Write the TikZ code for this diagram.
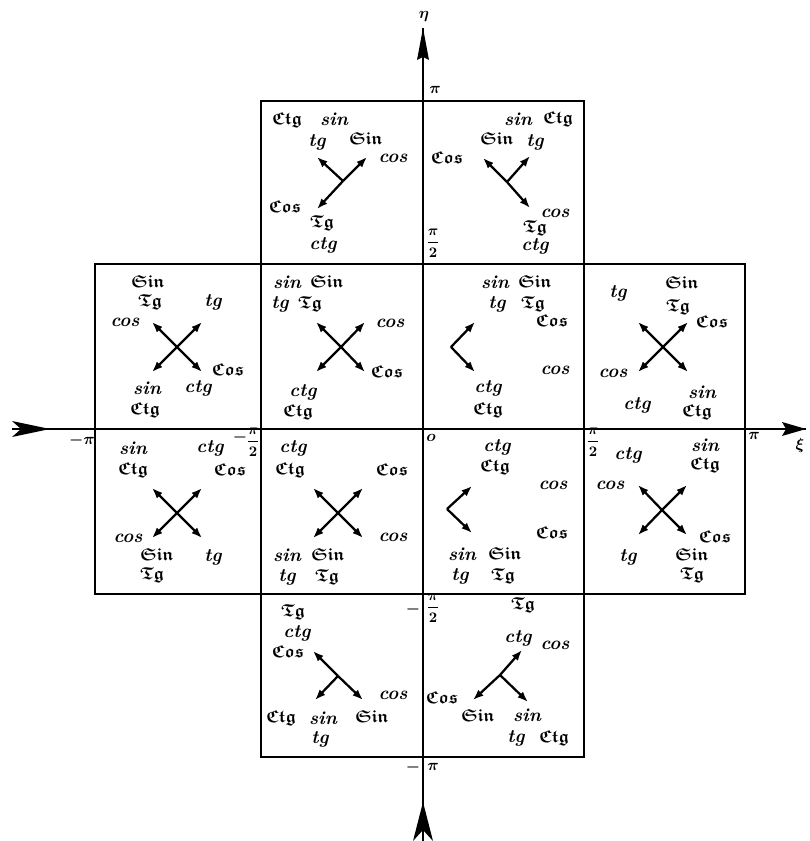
\documentclass[tikz,border=0pt]{standalone}
\usepackage{fontspec}
\usepackage{amssymb}
\usepackage{bm}
\DeclareFontFamily{U}{euf}{}
\DeclareFontShape{U}{euf}{m}{n}{<-6>eufm5<6-8>eufm7<8->eufm10}{}
\DeclareFontShape{U}{euf}{b}{n}{<-6>eufb5<6-8>eufb7<8->eufb10}{}
\usetikzlibrary{arrows.meta}
\newcommand\frk[1]{$\bm{\mathfrak{#1}}$}
\newcommand\hpi{$\displaystyle\bm{\frac{\pi}{2}}$}
\begin{document}
\begin{tikzpicture}[x=0.75pt,y=-0.75pt,
 lab/.style={inner sep=0pt, font=\fontsize{14}{16}\selectfont\bfseries\itshape},
 frl/.style={inner sep=0pt, font=\fontsize{13}{15}\selectfont},
 tick/.style={inner sep=0pt, font=\fontsize{13}{14}\selectfont\bfseries\itshape},
 htick/.style={inner sep=0pt, font=\fontsize{10.5}{11}\selectfont},
 arr/.style={line width=1.7pt, -{Latex[length=8pt,width=6pt]}},
 box/.style={line width=1.3pt},
 axisline/.style={line width=1.6pt}]
\useasboundingbox (0,0) rectangle (809,841);
% boxes
\draw[box] (261,101) rectangle (584,264);
\draw[box] (95,264) rectangle (745,594);
\draw[box] (261,594) rectangle (584,757);
\draw[box] (261,264) -- (261,594);
\draw[box] (584,264) -- (584,594);
% axes
\coordinate (xl) at (12,429); \coordinate (xr) at (806,429);
\coordinate (yb) at (423,841); \coordinate (yt) at (423,28);
\draw[axisline] (xl) -- (xr);
\draw[axisline] (yb) -- (yt);
\fill (50,429) -- (12,421) -- (21,429) -- (12,437) -- cycle;
\fill (806,429) -- (782,422) -- (786,429) -- (782,436) -- cycle;
\fill (423,28) -- (429,60) -- (423,57) -- (417,60) -- cycle;
\fill (423,802) -- (433,841) -- (423,830) -- (413,841) -- cycle;
% axis labels
\node[tick] (eta) at (424,17) {$\bm\eta$};
\node[tick] (xi) at (800,445) {$\bm\xi$};
\node[tick] (p1) at (435,90) {$\bm\pi$};
\node[htick] (p2) at (433,243) {\hpi};
\node[tick] (m2a) at (413,609) {$\bm-$};
\node[htick] (m2b) at (433,608) {\hpi};
\node[tick] (m1a) at (413,767) {$\bm-$};
\node[tick] (m1b) at (433,767) {$\bm\pi$};
\node[tick] (lpi) at (82,440) {$\bm{-\pi}$};
\node[tick] (lhp1) at (240,437) {$\bm-$};
\node[htick] (lhp2) at (253,442) {\hpi};
\node[tick] (orig) at (431,438) {$\bm o$};
\node[htick] (rhp) at (593,442) {\hpi};
\node[tick] (rpi) at (754,436) {$\bm\pi$};
% ---- top left box
\node[frl] (tl1) at (287,120) {\frk{Ctg}};
\node[lab] (tl2) at (334,119) {sin};
\node[lab] (tl3) at (317,142) {tg};
\node[frl] (tl4) at (366,139) {\frk{Sin}};
\node[lab] (tl5) at (393,158) {cos};
\node[frl] (tl6) at (285,207) {\frk{Cos}};
\node[frl] (tl7) at (322,223) {\frk{Tg}};
\node[lab] (tl8) at (323,245) {ctg};
\coordinate (tlc) at (343,181);
\coordinate (tla) at (317,157); \coordinate (tlb) at (367,157); \coordinate (tld) at (317,209);
\draw[arr] (tlc) -- (tla); \draw[arr] (tlc) -- (tlb); \draw[arr] (tlc) -- (tld);
% ---- top right box
\node[lab] (tr1) at (518,119) {sin};
\node[frl] (tr2) at (558,119) {\frk{Ctg}};
\node[frl] (tr3) at (497,139) {\frk{Sin}};
\node[lab] (tr4) at (535,142) {tg};
\node[frl] (tr5) at (447,158) {\frk{Cos}};
\node[lab] (tr6) at (555,213) {cos};
\node[frl] (tr7) at (535,228) {\frk{Tg}};
\node[lab] (tr8) at (535,246) {ctg};
\coordinate (trc) at (507,182);
\coordinate (tra) at (483,158); \coordinate (trb) at (530,156); \coordinate (trd) at (530,208);
\draw[arr] (trc) -- (tra); \draw[arr] (trc) -- (trb); \draw[arr] (trc) -- (trd);
% ---- middle row, upper half
\node[frl] (a1) at (148,282) {\frk{Sin}};
\node[frl] (a2) at (150,302) {\frk{Tg}};
\node[lab] (a3) at (213,302) {tg};
\node[lab] (a4) at (125,322) {cos};
\node[frl] (a5) at (228,370) {\frk{Cos}};
\node[lab] (a6) at (147,388) {sin};
\node[lab] (a7) at (198,388) {ctg};
\node[frl] (a8) at (145,410) {\frk{Ctg}};
\coordinate (ac) at (177,347);
\coordinate (aa) at (152,322); \coordinate (ab) at (202,322); \coordinate (ad) at (152,372); \coordinate (ae) at (202,372);
\draw[arr] (ac) -- (aa); \draw[arr] (ac) -- (ab); \draw[arr] (ac) -- (ad); \draw[arr] (ac) -- (ae);

\node[lab] (b1) at (287,282) {sin};
\node[frl] (b2) at (327,282) {\frk{Sin}};
\node[lab] (b3) at (280,304) {tg};
\node[frl] (b4) at (310,304) {\frk{Tg}};
\node[lab] (b5) at (390,323) {cos};
\node[frl] (b6) at (387,372) {\frk{Cos}};
\node[lab] (b7) at (303,392) {ctg};
\node[frl] (b8) at (298,412) {\frk{Ctg}};
\coordinate (bc) at (341,347);
\coordinate (ba) at (316,322); \coordinate (bb) at (365,322); \coordinate (bd) at (316,372); \coordinate (be) at (365,372);
\draw[arr] (bc) -- (ba); \draw[arr] (bc) -- (bb); \draw[arr] (bc) -- (bd); \draw[arr] (bc) -- (be);

\node[lab] (c1) at (495,282) {sin};
\node[frl] (c2) at (535,282) {\frk{Sin}};
\node[lab] (c3) at (497,304) {tg};
\node[frl] (c4) at (533,304) {\frk{Tg}};
\node[frl] (c5) at (552,321) {\frk{Cos}};
\node[lab] (c6) at (555,370) {cos};
\node[lab] (c7) at (488,388) {ctg};
\node[frl] (c8) at (488,410) {\frk{Ctg}};
\coordinate (cc) at (451,347);
\coordinate (ca) at (475,322); \coordinate (cb) at (475,372);
\draw[arr] (cc) -- (ca); \draw[arr] (cc) -- (cb);

\node[lab] (d1) at (618,293) {tg};
\node[frl] (d2) at (682,283) {\frk{Sin}};
\node[frl] (d3) at (678,307) {\frk{Tg}};
\node[frl] (d4) at (712,322) {\frk{Cos}};
\node[lab] (d5) at (613,373) {cos};
\node[lab] (d6) at (637,405) {ctg};
\node[lab] (d7) at (702,392) {sin};
\node[frl] (d8) at (697,412) {\frk{Ctg}};
\coordinate (dc) at (663,347);
\coordinate (da) at (638,322); \coordinate (db) at (688,322); \coordinate (dd) at (638,372); \coordinate (de) at (688,372);
\draw[arr] (dc) -- (da); \draw[arr] (dc) -- (db); \draw[arr] (dc) -- (dd); \draw[arr] (dc) -- (de);
% ---- middle row, lower half
\node[lab] (e1) at (133,448) {sin};
\node[frl] (e2) at (133,470) {\frk{Ctg}};
\node[lab] (e3) at (210,448) {ctg};
\node[frl] (e4) at (230,470) {\frk{Cos}};
\node[lab] (e5) at (128,538) {cos};
\node[frl] (e6) at (157,555) {\frk{Sin}};
\node[lab] (e7) at (213,557) {tg};
\node[frl] (e8) at (152,575) {\frk{Tg}};
\coordinate (ec) at (177,513);
\coordinate (ea) at (152,488); \coordinate (eb) at (202,488); \coordinate (ed) at (152,538); \coordinate (ee) at (202,538);
\draw[arr] (ec) -- (ea); \draw[arr] (ec) -- (eb); \draw[arr] (ec) -- (ed); \draw[arr] (ec) -- (ee);

\node[lab] (f1) at (293,448) {ctg};
\node[frl] (f2) at (290,470) {\frk{Ctg}};
\node[frl] (f3) at (392,470) {\frk{Cos}};
\node[lab] (f4) at (393,537) {cos};
\node[lab] (f5) at (287,555) {sin};
\node[frl] (f6) at (328,555) {\frk{Sin}};
\node[lab] (f7) at (287,577) {tg};
\node[frl] (f8) at (327,577) {\frk{Tg}};
\coordinate (fc) at (338,513);
\coordinate (fa) at (313,488); \coordinate (fb) at (363,488); \coordinate (fd) at (313,538); \coordinate (fe) at (363,538);
\draw[arr] (fc) -- (fa); \draw[arr] (fc) -- (fb); \draw[arr] (fc) -- (fd); \draw[arr] (fc) -- (fe);

\node[lab] (g1) at (497,447) {ctg};
\node[frl] (g2) at (495,467) {\frk{Ctg}};
\node[lab] (g3) at (553,485) {cos};
\node[frl] (g4) at (552,533) {\frk{Cos}};
\node[lab] (g5) at (462,554) {sin};
\node[frl] (g6) at (505,554) {\frk{Sin}};
\node[lab] (g7) at (460,576) {tg};
\node[frl] (g8) at (503,576) {\frk{Tg}};
\coordinate (gc) at (447,509);
\coordinate (ga) at (472,486); \coordinate (gb) at (472,533);
\draw[arr] (gc) -- (ga); \draw[arr] (gc) -- (gb);

\node[lab] (h1) at (628,455) {ctg};
\node[lab] (h2) at (610,485) {cos};
\node[lab] (h3) at (705,445) {sin};
\node[frl] (h4) at (705,465) {\frk{Ctg}};
\node[frl] (h5) at (715,537) {\frk{Cos}};
\node[lab] (h6) at (628,557) {tg};
\node[frl] (h7) at (692,555) {\frk{Sin}};
\node[frl] (h8) at (692,575) {\frk{Tg}};
\coordinate (hc) at (662,510);
\coordinate (ha) at (638,485); \coordinate (hb) at (687,485); \coordinate (hd) at (638,535); \coordinate (he) at (687,535);
\draw[arr] (hc) -- (ha); \draw[arr] (hc) -- (hb); \draw[arr] (hc) -- (hd); \draw[arr] (hc) -- (he);
% ---- bottom left box
\node[frl] (i1) at (293,612) {\frk{Tg}};
\node[lab] (i2) at (297,633) {ctg};
\node[frl] (i3) at (288,652) {\frk{Cos}};
\node[lab] (i4) at (393,695) {cos};
\node[frl] (i5) at (281,718) {\frk{Ctg}};
\node[lab] (i6) at (323,718) {sin};
\node[frl] (i7) at (372,717) {\frk{Sin}};
\node[lab] (i8) at (320,739) {tg};
\coordinate (ic) at (338,676);
\coordinate (ia) at (313,651); \coordinate (ib) at (315,700); \coordinate (id) at (363,700);
\draw[arr] (ic) -- (ia); \draw[arr] (ic) -- (ib); \draw[arr] (ic) -- (id);
% ---- bottom right box
\node[frl] (j1) at (523,605) {\frk{Tg}};
\node[lab] (j2) at (518,638) {ctg};
\node[lab] (j3) at (555,645) {cos};
\node[frl] (j4) at (442,698) {\frk{Cos}};
\node[frl] (j5) at (478,715) {\frk{Sin}};
\node[lab] (j6) at (527,715) {sin};
\node[lab] (j7) at (516,738) {tg};
\node[frl] (j8) at (554,738) {\frk{Ctg}};
\coordinate (jc) at (500,675);
\coordinate (ja) at (522,650); \coordinate (jb) at (473,700); \coordinate (jd) at (528,702);
\draw[arr] (jc) -- (ja); \draw[arr] (jc) -- (jb); \draw[arr] (jc) -- (jd);
\end{tikzpicture}
\end{document}
